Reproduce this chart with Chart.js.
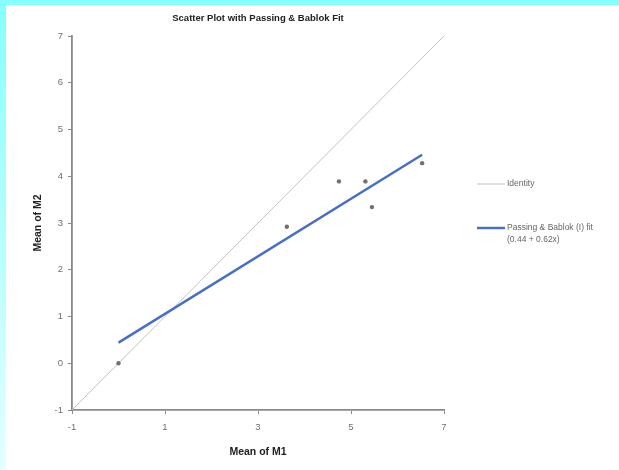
<!DOCTYPE html>
<html>
<head>
<meta charset="utf-8">
<script src="https://cdn.jsdelivr.net/npm/chart.js@4/dist/chart.umd.min.js"></script>
<style>
  body { margin: 0; background: #fff; }
  #wrap { position: relative; width: 619px; height: 470px; overflow: hidden; background: #fff; }
  #topband { position: absolute; left: 0; top: 0; width: 619px; height: 5px; background: #86ffff; }
  #leftband { position: absolute; left: 0; top: 0; width: 6px; height: 470px;
    background: linear-gradient(to bottom, #86ffff, #e4ffff); }
  canvas { position: absolute; left: 0; top: 0; }
</style>
</head>
<body>
<div id="wrap">
  <div id="topband"></div>
  <div id="leftband"></div>
  <canvas id="chart" width="619" height="470"></canvas>
</div>
<script>
// values
const m1 = [0.0, 3.62, 4.74, 5.31, 5.45, 6.53];
const m2 = [0.0, 2.92, 3.89, 3.89, 3.34, 4.28];

const identityX = [-1, 7];
const identityY = [-1, 7];

// Passing & Bablok fit endpoints (0.44 + 0.62x)
const fitX = [0, 6.53];
const fitY = [0.44, 4.46];

const xTicks = [-1, 1, 3, 5, 7];
const yTicks = [-1, 0, 1, 2, 3, 4, 5, 6, 7];

const legendLabels = ['Identity', ['Passing & Bablok (I) fit', '(0.44 + 0.62x)']];

const toPoints = (xs, ys) => xs.map((x, i) => ({x: x, y: ys[i]}));

const FONT = '"Liberation Sans", Arial, sans-serif';

// small legend on the right, like the original
const sideLegend = {
  id: 'sideLegend',
  afterDraw(chart) {
    const ctx = chart.ctx;
    const items = chart.data.datasets.filter(d => d.legendText);
    const rows = [184, 228];
    ctx.save();
    items.forEach((d, i) => {
      const y = rows[i];
      ctx.strokeStyle = d.borderColor;
      ctx.lineWidth = d.borderWidth;
      ctx.beginPath();
      ctx.moveTo(477, y);
      ctx.lineTo(505, y);
      ctx.stroke();
      ctx.fillStyle = '#666';
      ctx.font = '8.5px ' + FONT;
      ctx.textBaseline = 'middle';
      const lines = Array.isArray(d.legendText) ? d.legendText : [d.legendText];
      lines.forEach((t, k) => ctx.fillText(t, 507, y + k * 12));
    });
    ctx.restore();
  }
};

const chartCanvas = document.getElementById('chart');
const chart = new Chart(chartCanvas.getContext('2d'), {
  type: 'scatter',
  data: {
    datasets: [
      {
        type: 'line',
        data: toPoints(identityX, identityY),
        borderColor: '#c4c4c4',
        borderWidth: 1,
        pointRadius: 0,
        fill: false,
        legendText: legendLabels[0],
        order: 3
      },
      {
        type: 'line',
        data: toPoints(fitX, fitY),
        borderColor: '#4a6fbf',
        borderWidth: 2.5,
        pointRadius: 0,
        fill: false,
        legendText: legendLabels[1],
        order: 2
      },
      {
        data: toPoints(m1, m2),
        backgroundColor: '#707070',
        borderWidth: 0,
        pointRadius: 2.2,
        order: 1
      }
    ]
  },
  options: {
    responsive: false,
    animation: false,
    devicePixelRatio: 1,
    layout: { padding: { left: 30, right: 175, top: 9, bottom: 10 } },
    plugins: {
      legend: { display: false },
      tooltip: { enabled: false },
      title: {
        display: true,
        fullSize: false,
        text: 'Scatter Plot with Passing & Bablok Fit',
        color: '#222',
        font: { family: FONT, size: 9.5, weight: 'bold' },
        padding: { top: 4, bottom: 11.6 }
      }
    },
    scales: {
      x: {
        type: 'linear',
        min: -1,
        max: 7,
        afterBuildTicks: (s) => { s.ticks = xTicks.map(v => ({value: v})); },
        afterFit: (s) => { s.height = 50; },
        grid: { drawOnChartArea: false, drawTicks: true, tickLength: 4, color: '#8a8a8a' },
        border: { display: true, color: '#8a8a8a', width: 1.8 },
        ticks: { color: '#707070', padding: 8, font: { family: FONT, size: 9.5 } },
        title: {
          display: true,
          text: 'Mean of M1',
          color: '#222',
          font: { family: FONT, size: 10.5, weight: 'bold' },
          padding: { top: 0, bottom: 1.5 }
        }
      },
      y: {
        type: 'linear',
        min: -1,
        max: 7,
        afterBuildTicks: (s) => { s.ticks = yTicks.map(v => ({value: v})); },
        afterFit: (s) => { s.width = 42; },
        grid: { drawOnChartArea: false, drawTicks: true, tickLength: 4, color: '#8a8a8a' },
        border: { display: true, color: '#8a8a8a', width: 1.8 },
        ticks: { color: '#707070', padding: 5, font: { family: FONT, size: 9.5 } },
        title: {
          display: true,
          text: 'Mean of M2',
          color: '#222',
          font: { family: FONT, size: 10.5, weight: 'bold' },
          padding: { top: 2, bottom: 0 }
        }
      }
    }
  },
  plugins: [sideLegend]
});
</script>
</body>
</html>
